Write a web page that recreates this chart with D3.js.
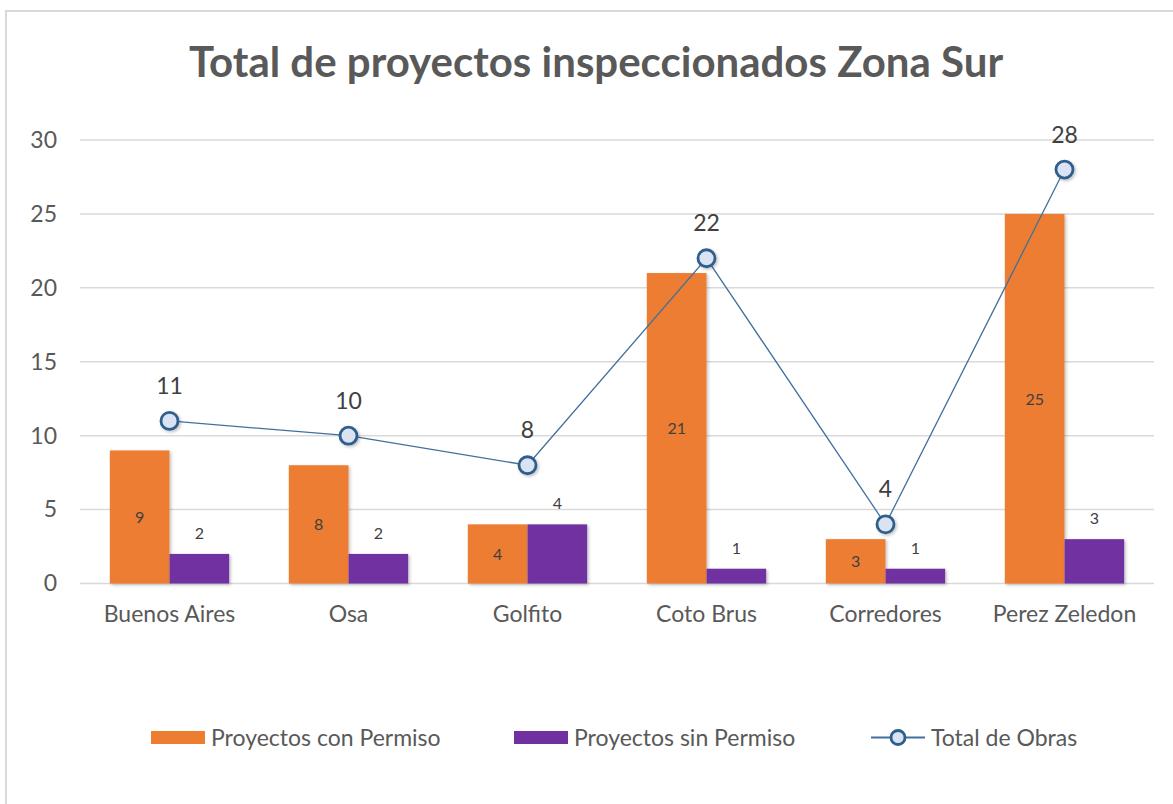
<!DOCTYPE html>
<html>
<head>
<meta charset="utf-8">
<script src="https://cdn.jsdelivr.net/npm/d3@7"></script>
<style>
	body { margin: 0; background: #fff; }
	text { font-family: Lato, "Open Sans", sans-serif; }
</style>
</head>
<body>
<div id="chart"></div>
<script>

// data
let categories = ["Buenos Aires", "Osa", "Golfito", "Coto Brus", "Corredores", "Perez Zeledon"];
let conPermiso = [9, 8, 4, 21, 3, 25];
let sinPermiso = [2, 2, 4, 1, 1, 3];
let totalObras = [11, 10, 8, 22, 4, 28];
let yTicks = [0, 5, 10, 15, 20, 25, 30];

let seriesNames = ["Proyectos con Permiso", "Proyectos sin Permiso", "Total de Obras"];
let colors = { con: "#ed7d31", sin: "#7030a0", line: "#41719c", marker: "#dae3f3", markerStroke: "#2e5e8c" };

let W = 1173, H = 804;
let margin = { top: 140, right: 19, bottom: 220, left: 80 };
let width = W - margin.left - margin.right;
let height = 583.5 - margin.top;

let svg = d3.select("#chart").append("svg")
	.attr("width", W)
	.attr("height", H);

// drop shadow used by bars and markers
let defs = svg.append("defs");
let f = defs.append("filter").attr("id", "shadow").attr("x", "-20%").attr("y", "-20%").attr("width", "150%").attr("height", "150%");
f.append("feDropShadow").attr("dx", 1.5).attr("dy", 1.5).attr("stdDeviation", 1.5)
	.attr("flood-color", "#000").attr("flood-opacity", 0.25);

// outer frame
svg.append("rect")
	.attr("x", 6).attr("y", 11)
	.attr("width", W + 10).attr("height", H + 10)
	.attr("fill", "none")
	.attr("stroke", "#d9d9d9")
	.attr("stroke-width", 2);

// title
svg.append("text")
	.attr("x", 596)
	.attr("y", 77)
	.attr("text-anchor", "middle")
	.attr("font-size", 42)
	.attr("font-weight", "bold")
	.attr("fill", "#595959")
	.text("Total de proyectos inspeccionados Zona Sur");

let g = svg.append("g")
	.attr("transform", "translate(" + margin.left + "," + margin.top + ")");

// scales
let x = d3.scaleBand()
	.domain(categories)
	.range([0, width]);

let x1 = d3.scaleBand()
	.domain(["con", "sin"])
	.range([x.bandwidth() / 6, x.bandwidth() * 5 / 6]);

let y = d3.scaleLinear()
	.domain([0, 30])
	.range([height, 0]);

// gridlines
g.selectAll(".grid")
	.data(yTicks)
	.enter()
	.append("line")
	.attr("class", "grid")
	.attr("x1", 0)
	.attr("x2", width)
	.attr("y1", d => y(d))
	.attr("y2", d => y(d))
	.attr("stroke", "#d9d9d9")
	.attr("stroke-width", 1.5);

// y axis labels
let yAxis = d3.axisLeft(y).tickValues(yTicks).tickSize(0).tickPadding(23);
g.append("g")
	.attr("class", "y-axis")
	.call(yAxis)
	.call(s => s.select(".domain").remove())
	.selectAll("text")
	.attr("font-size", 23)
	.attr("fill", "#595959");

// x axis labels
let xAxis = d3.axisBottom(x).tickSize(0).tickPadding(22);
g.append("g")
	.attr("class", "x-axis")
	.attr("transform", "translate(0," + height + ")")
	.call(xAxis)
	.call(s => s.select(".domain").remove())
	.selectAll("text")
	.attr("font-size", 23)
	.attr("fill", "#595959");

// bars
let barData = categories.map((c, i) => ({ key: c, con: conPermiso[i], sin: sinPermiso[i] }));

let groups = g.selectAll(".cat")
	.data(barData)
	.enter()
	.append("g")
	.attr("class", "cat")
	.attr("transform", d => "translate(" + x(d.key) + ",0)");

groups.append("rect")
	.attr("x", x1("con"))
	.attr("y", d => y(d.con))
	.attr("width", x1.bandwidth())
	.attr("height", d => height - y(d.con))
	.attr("fill", colors.con)
	.attr("filter", "url(#shadow)");

groups.append("rect")
	.attr("x", x1("sin"))
	.attr("y", d => y(d.sin))
	.attr("width", x1.bandwidth())
	.attr("height", d => height - y(d.sin))
	.attr("fill", colors.sin)
	.attr("filter", "url(#shadow)");

// labels inside orange bars
groups.append("text")
	.attr("x", x1("con") + x1.bandwidth() / 2)
	.attr("y", d => (y(d.con) + height) / 2 + 6)
	.attr("text-anchor", "middle")
	.attr("font-size", 16)
	.attr("fill", "#404040")
	.text(d => d.con);

// labels above purple bars
groups.append("text")
	.attr("x", x1("sin") + x1.bandwidth() / 2)
	.attr("y", d => y(d.sin) - 15)
	.attr("text-anchor", "middle")
	.attr("font-size", 16)
	.attr("fill", "#404040")
	.text(d => d.sin);

// total line
let lineData = categories.map((c, i) => ({ key: c, value: totalObras[i] }));
let line = d3.line()
	.x(d => x(d.key) + x.bandwidth() / 2)
	.y(d => y(d.value));

g.append("path")
	.datum(lineData)
	.attr("d", line)
	.attr("fill", "none")
	.attr("stroke", colors.line)
	.attr("stroke-width", 1.3);

g.selectAll(".marker")
	.data(lineData)
	.enter()
	.append("circle")
	.attr("class", "marker")
	.attr("cx", d => x(d.key) + x.bandwidth() / 2)
	.attr("cy", d => y(d.value))
	.attr("r", 8.5)
	.attr("fill", colors.marker)
	.attr("stroke", colors.markerStroke)
	.attr("stroke-width", 2.8)
	.attr("filter", "url(#shadow)");

g.selectAll(".total-label")
	.data(lineData)
	.enter()
	.append("text")
	.attr("class", "total-label")
	.attr("x", d => x(d.key) + x.bandwidth() / 2)
	.attr("y", d => y(d.value) - 27)
	.attr("text-anchor", "middle")
	.attr("font-size", 23)
	.attr("fill", "#404040")
	.text(d => d.value);

// legend
let legend = svg.append("g").attr("class", "legend");
let legendX = [151, 514, 871];

legend.append("rect")
	.attr("x", legendX[0]).attr("y", 731)
	.attr("width", 54).attr("height", 13)
	.attr("fill", colors.con);

legend.append("rect")
	.attr("x", legendX[1]).attr("y", 731)
	.attr("width", 54).attr("height", 13)
	.attr("fill", colors.sin);

legend.append("line")
	.attr("x1", legendX[2]).attr("x2", legendX[2] + 54)
	.attr("y1", 737.5).attr("y2", 737.5)
	.attr("stroke", colors.line)
	.attr("stroke-width", 2);

legend.append("circle")
	.attr("cx", legendX[2] + 27).attr("cy", 737.5)
	.attr("r", 7)
	.attr("fill", colors.marker)
	.attr("stroke", colors.markerStroke)
	.attr("stroke-width", 2.8);

legend.selectAll(".legend-label")
	.data(seriesNames)
	.enter()
	.append("text")
	.attr("class", "legend-label")
	.attr("x", (d, i) => legendX[i] + 60)
	.attr("y", 746)
	.attr("font-size", 23)
	.attr("fill", "#595959")
	.text(d => d);

</script>
</body>
</html>
